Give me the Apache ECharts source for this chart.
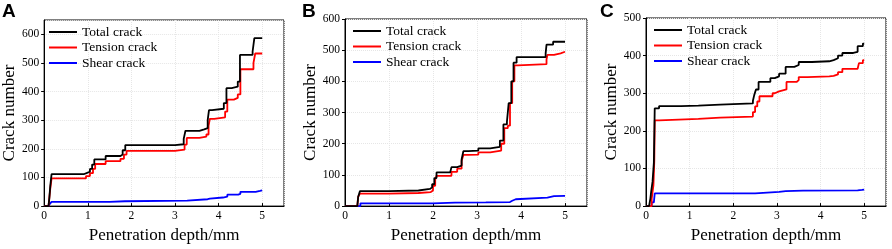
<!DOCTYPE html>
<html>
<head>
<meta charset="utf-8">
<script src="https://cdn.jsdelivr.net/npm/echarts@6/dist/echarts.min.js"></script>
<style>
  html, body { margin: 0; padding: 0; background: #fff; }
  #chart { width: 892px; height: 249px; }
</style>
</head>
<body>
<div id="chart"></div>
<script>
// [depth (mm), crack count] - each point is where a new level starts (step: 'end')
const aTotal = [[0,0],[0.1,0],[0.12,30],[0.14,70],[0.17,112],[0.92,115],[0.97,120],[1.05,130],[1.1,145],[1.15,163],[1.41,175],[1.75,180],[1.8,195],[1.86,213],[3.0,216],[3.2,235],[3.24,263],[3.56,268],[3.67,272],[3.75,300],[3.78,335],[3.85,340],[4.12,360],[4.18,412],[4.3,417],[4.44,435],[4.49,528],[4.78,540],[4.82,587],[5.0,587]];
const aTension = [[0,0],[0.1,0],[0.12,30],[0.14,60],[0.17,97],[0.96,105],[1.05,115],[1.12,130],[1.17,147],[1.41,157],[1.75,165],[1.83,180],[1.89,193],[3.0,197],[3.22,215],[3.27,238],[3.56,243],[3.72,250],[3.77,280],[3.8,305],[3.9,310],[4.15,330],[4.2,372],[4.35,378],[4.44,390],[4.5,478],[4.8,500],[4.84,533],[5.0,533]];
const aShear = [[0,0],[0.1,0],[0.13,8],[0.17,15],[1.5,17],[1.85,19],[3.28,24],[3.75,26],[3.8,30],[4.1,33],[4.2,40],[4.45,43],[4.5,50],[4.85,53],[4.95,55],[5.0,55]];

const bTotal = [[0,0],[0.28,0],[0.3,30],[0.34,48],[1.0,50],[1.67,55],[1.93,60],[1.98,70],[2.03,90],[2.08,108],[2.39,110],[2.42,125],[2.55,130],[2.65,150],[2.69,176],[2.8,178],[3.03,185],[3.3,190],[3.52,210],[3.6,262],[3.68,270],[3.72,330],[3.78,400],[3.83,460],[3.9,478],[4.56,490],[4.58,518],[4.73,527],[5.0,527]];
const bTension = [[0,0],[0.28,0],[0.3,30],[0.34,40],[1.0,42],[1.67,45],[1.95,50],[2.0,65],[2.05,85],[2.08,97],[2.42,110],[2.55,120],[2.65,145],[2.69,164],[2.8,165],[3.03,172],[3.3,178],[3.55,200],[3.62,250],[3.7,258],[3.75,330],[3.8,400],[3.85,451],[3.93,455],[4.58,470],[4.6,485],[4.75,490],[4.9,495],[5.0,495]];
const bShear = [[0,0],[0.3,0],[0.35,9],[2.0,11],[2.5,12],[3.2,13],[3.75,17],[3.8,22],[3.88,27],[4.6,32],[4.75,33],[5.0,33]];

const cTotal = [[0,0],[0.07,0],[0.1,20],[0.12,40],[0.15,65],[0.18,115],[0.2,260],[0.3,266],[0.8,267],[1.2,270],[1.7,273],[2.45,280],[2.48,295],[2.52,310],[2.58,330],[2.85,340],[2.95,345],[3.05,352],[3.2,370],[3.4,375],[3.5,383],[3.8,385],[4.2,388],[4.3,393],[4.4,400],[4.5,407],[4.75,410],[4.85,425],[4.97,432],[5.0,432]];
const cTension = [[0,0],[0.07,0],[0.13,20],[0.17,55],[0.19,120],[0.2,228],[0.3,232],[1.2,235],[1.7,238],[2.45,250],[2.5,265],[2.55,278],[2.6,292],[2.9,300],[2.95,305],[3.05,310],[3.22,330],[3.45,335],[3.5,343],[3.7,345],[4.2,346],[4.3,350],[4.4,356],[4.5,365],[4.85,370],[4.88,380],[4.97,388],[5.0,388]];
const cShear = [[0,0],[0.08,0],[0.13,10],[0.18,15],[0.2,34],[2.5,38],[3.05,40],[3.2,41],[3.6,42],[4.85,43],[4.95,44],[5.0,44]];

const seriesNames = ['Total crack', 'Tension crack', 'Shear crack'];
const seriesColors = ['#000000', '#ff0000', '#0000ff'];
const panelLabels = ['A', 'B', 'C'];
const yMax = [650, 600, 500];
const panelData = [[aTotal, aTension, aShear], [bTotal, bTension, bShear], [cTotal, cTension, cShear]];

const serif = "'Liberation Serif', 'Times New Roman', serif";
const grids = [
  { left: 41, top: 20, width: 243, height: 195 },
  { left: 345, top: 19, width: 242, height: 195 },
  { left: 646, top: 18, width: 240, height: 196 }
];
const labelPos = [{ x: 2, y: 2 }, { x: 302, y: 2 }, { x: 600, y: 2 }];

let myChart = echarts.init(document.getElementById('chart'));

const xAxes = [], yAxes = [], series = [], legends = [], texts = [];
grids.forEach((g, i) => {
  g.show = true;
  g.borderColor = '#000';
  g.borderWidth = 1;
  xAxes.push({
    gridIndex: i,
    type: 'value',
    min: 0, max: 5.5, interval: 1,
    name: 'Penetration depth/mm',
    nameLocation: 'middle',
    nameGap: 15,
    nameTextStyle: { fontFamily: serif, fontSize: 17, color: '#000' },
    axisLine: { lineStyle: { color: '#000', width: 1 } },
    axisTick: { inside: true, length: 3, lineStyle: { color: '#000' } },
    axisLabel: { fontFamily: serif, fontSize: 11.5, color: '#000', margin: 4, showMaxLabel: false },
    splitLine: { show: true, lineStyle: { color: '#e6e6e6', type: 'dotted' } }
  });
  yAxes.push({
    gridIndex: i,
    type: 'value',
    min: 0, max: yMax[i], interval: 100,
    name: 'Crack number',
    nameLocation: 'middle',
    nameGap: 24,
    nameTextStyle: { fontFamily: serif, fontSize: 17, color: '#000' },
    axisLine: { show: true, lineStyle: { color: '#000', width: 1 } },
    axisTick: { show: true, inside: false, length: 3, lineStyle: { color: '#000' } },
    axisLabel: { fontFamily: serif, fontSize: 11.5, color: '#000', margin: 5, showMaxLabel: yMax[i] % 100 === 0 },
    splitLine: { show: true, lineStyle: { color: '#e6e6e6', type: 'dotted' } }
  });
  panelData[i].forEach((d, k) => {
    series.push({
      name: seriesNames[k],
      type: 'line',
      step: 'end',
      xAxisIndex: i,
      yAxisIndex: i,
      data: d,
      symbol: 'none',
      color: seriesColors[k],
      lineStyle: { width: 1.8, color: seriesColors[k] },
      z: 3 - k
    });
  });
  legends.push({
    orient: 'vertical',
    left: g.left + 7,
    top: g.top + 5,
    padding: 0,
    itemWidth: 28,
    itemHeight: 14,
    itemGap: 1.5,
    data: seriesNames,
    itemStyle: { opacity: 0 },
    lineStyle: { width: 2 },
    textStyle: { fontFamily: serif, fontSize: 13.5, color: '#000', lineHeight: 14 }
  });
  texts.push({
    type: 'text',
    left: labelPos[i].x,
    top: labelPos[i].y,
    style: { text: panelLabels[i], font: "bold 19px 'Liberation Sans', Arial, sans-serif", fill: '#000' }
  });
});

const option = {
  animation: false,
  backgroundColor: '#fff',
  grid: grids,
  xAxis: xAxes,
  yAxis: yAxes,
  legend: legends,
  series: series,
  graphic: texts
};

myChart.setOption(option);
</script>
</body>
</html>
